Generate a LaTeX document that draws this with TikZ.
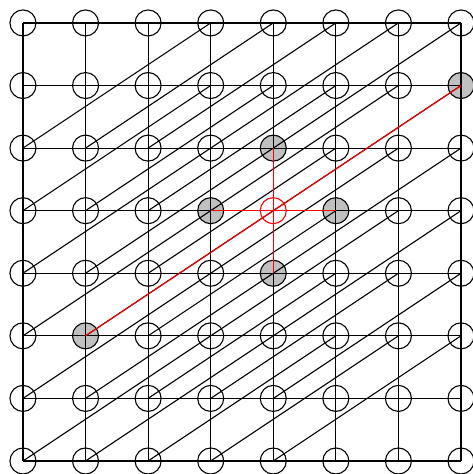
\documentclass[tikz,border=0pt]{standalone}
\usepackage{tikz}
\usetikzlibrary{calc}
\definecolor{nodegray}{RGB}{192,192,192}
\tikzset{
  % marked vertices of the lattice
  s43/.style={active},
  s42/.style={neighbour}, s44/.style={neighbour},
  s33/.style={neighbour}, s53/.style={neighbour},
  s15/.style={neighbour}, s71/.style={neighbour}
}

\begin{document}
\begin{tikzpicture}[
    x=1cm, y=-1cm,
    vertex/.style={circle, draw=black, line width=0.5pt, minimum size=0.416cm, inner sep=0pt},
    active/.style={draw=red},
    neighbour/.style={fill=nodegray},
    edge/.style={line width=0.5pt},
    redge/.style={edge, draw=red}
  ]
    \useasboundingbox (-0.367,-0.367) rectangle (7.19,7.208);

    % vertices
    \foreach \i in {0,...,7}
      \foreach \j in {0,...,7}
        \node[vertex, s\i\j/.try] (n\i\j) at (\i,\j) {};

    % horizontal and vertical edges
    \foreach \i in {0,...,6}
      \foreach \j in {0,...,7} {
        \pgfmathtruncatemacro\k{\i+1}
        \draw[edge] (n\i\j.center) -- (n\k\j.center);
        \draw[edge] (n\j\i.center) -- (n\j\k.center);
      }

    % skew edges
    \foreach \i in {0,...,4}
      \foreach \j in {2,...,7} {
        \pgfmathtruncatemacro\k{\i+3}
        \pgfmathtruncatemacro\l{\j-2}
        \draw[edge] (n\i\j.center) -- (n\k\l.center);
      }

    % edges of the active vertex
    \foreach \m in {33,53,42,44,15,71}
      \draw[redge] (n43.center) -- (n\m.center);
  \end{tikzpicture}
\end{document}
